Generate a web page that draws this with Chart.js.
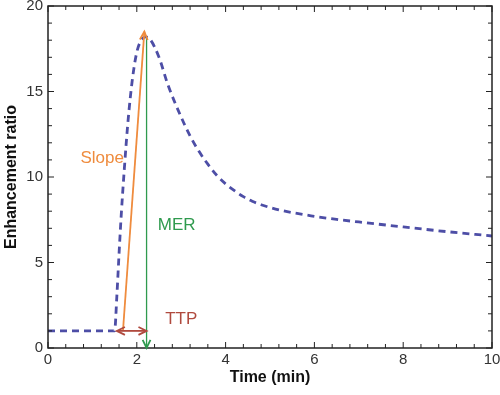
<!DOCTYPE html>
<html>
<head>
<meta charset="utf-8">
<script src="https://cdn.jsdelivr.net/npm/chart.js@4.4.0/dist/chart.umd.min.js"></script>
<style>
  html, body { margin: 0; background: #fff; }
  #wrap { width: 500px; height: 395px; }
</style>
</head>
<body>
<div id="wrap"><canvas id="grafico"></canvas></div>
<script>
// curva de realce
const tempos = [0, 0.5, 1.0, 1.5, 1.55, 1.6, 1.65, 1.72, 1.8, 1.9, 2.0, 2.1, 2.2, 2.3, 2.5, 2.7, 3.0, 3.2, 3.4, 3.6, 3.8, 4.0, 4.2, 4.4, 4.6, 4.8, 5.2, 6.0, 6.5, 7.0, 8.0, 9.0, 10.0];
const razoes = [1, 1, 1, 1, 3.0, 5.5, 7.8, 10.5, 13.2, 15.7, 17.3, 18.0, 18.2, 18.05, 17.0, 15.4, 13.5, 12.4, 11.5, 10.75, 10.1, 9.6, 9.2, 8.85, 8.58, 8.38, 8.08, 7.7, 7.52, 7.37, 7.08, 6.8, 6.55];

// anotações
const slopeX = [1.69, 2.17];
const slopeY = [1.05, 18.5];
const merX = [2.22, 2.22];
const merY = [0, 18.2];
const ttpX = [1.55, 2.22];
const ttpY = [1, 1];

const xTicks = [0, 2, 4, 6, 8, 10];
const yTicks = [0, 5, 10, 15, 20];

const azul = '#4d4ea6';
const laranja = '#ef8c3e';
const verde = '#2f9a4e';
const marrom = '#b04a3e';

function pontos(xs, ys) {
    return xs.map(function (x, i) { return { x: x, y: ys[i] }; });
}

// moldura com ticks para dentro + setas + textos
const moldura = {
    id: 'moldura',
    afterDatasetsDraw: function (chart) {
        const ctx = chart.ctx;
        const a = chart.chartArea;
        const sx = chart.scales.x;
        const sy = chart.scales.y;
        ctx.save();
        ctx.strokeStyle = '#222';
        ctx.lineWidth = 1.5;
        ctx.strokeRect(a.left, a.top, a.right - a.left, a.bottom - a.top);
        ctx.lineWidth = 1;
        for (let v = 0; v <= 10.001; v += 0.4) {
            const px = sx.getPixelForValue(v);
            const len = (Math.abs(v / 2 - Math.round(v / 2)) < 0.01) ? 6 : 4;
            ctx.beginPath();
            ctx.moveTo(px, a.bottom); ctx.lineTo(px, a.bottom - len);
            ctx.moveTo(px, a.top); ctx.lineTo(px, a.top + len);
            ctx.stroke();
        }
        for (let v = 0; v <= 20; v += 1) {
            const py = sy.getPixelForValue(v);
            const len = (v % 5 === 0) ? 6 : 4;
            ctx.beginPath();
            ctx.moveTo(a.left, py); ctx.lineTo(a.left + len, py);
            ctx.moveTo(a.right, py); ctx.lineTo(a.right - len, py);
            ctx.stroke();
        }

        function seta(x0, y0, x1, y1, cor) {
            const p0 = [sx.getPixelForValue(x0), sy.getPixelForValue(y0)];
            const p1 = [sx.getPixelForValue(x1), sy.getPixelForValue(y1)];
            const ang = Math.atan2(p1[1] - p0[1], p1[0] - p0[0]);
            const tam = 9, abre = 0.45;
            ctx.strokeStyle = cor;
            ctx.lineWidth = 1.8;
            ctx.beginPath();
            ctx.moveTo(p1[0] - tam * Math.cos(ang - abre), p1[1] - tam * Math.sin(ang - abre));
            ctx.lineTo(p1[0], p1[1]);
            ctx.lineTo(p1[0] - tam * Math.cos(ang + abre), p1[1] - tam * Math.sin(ang + abre));
            ctx.stroke();
        }
        seta(slopeX[0], slopeY[0], slopeX[1], slopeY[1], laranja);
        seta(merX[1], merY[1], merX[0], merY[0], verde);
        seta(ttpX[0], ttpY[0], ttpX[1], ttpY[1], marrom);
        seta(ttpX[1], ttpY[1], ttpX[0], ttpY[0], marrom);

        ctx.font = '17px "Liberation Sans", Arial, sans-serif';
        ctx.textAlign = 'center';
        ctx.textBaseline = 'middle';
        ctx.fillStyle = laranja;
        ctx.fillText('Slope', sx.getPixelForValue(1.22), sy.getPixelForValue(11.1));
        ctx.fillStyle = verde;
        ctx.fillText('MER', sx.getPixelForValue(2.9), sy.getPixelForValue(7.15));
        ctx.fillStyle = marrom;
        ctx.fillText('TTP', sx.getPixelForValue(3.0), sy.getPixelForValue(1.65));
        ctx.restore();
    }
};

const fonteTick = { family: '"Liberation Sans", Arial, sans-serif', size: 15 };
const fonteTitulo = { family: '"Liberation Sans", Arial, sans-serif', size: 16, weight: 'bold' };

new Chart(document.getElementById('grafico'), {
    type: 'scatter',
    data: {
        datasets: [
            {
                label: 'Curva',
                data: pontos(tempos, razoes),
                showLine: true,
                borderColor: azul,
                borderWidth: 2.8,
                borderDash: [7, 5],
                cubicInterpolationMode: 'monotone',
                pointRadius: 0,
                order: 3
            },
            {
                label: 'Slope',
                data: pontos(slopeX, slopeY),
                showLine: true,
                borderColor: laranja,
                borderWidth: 1.8,
                pointRadius: 0,
                order: 2
            },
            {
                label: 'MER',
                data: pontos(merX, merY),
                showLine: true,
                borderColor: verde,
                borderWidth: 1.3,
                pointRadius: 0,
                order: 1
            },
            {
                label: 'TTP',
                data: pontos(ttpX, ttpY),
                showLine: true,
                borderColor: marrom,
                borderWidth: 1.8,
                pointRadius: 0,
                order: 0
            }
        ]
    },
    options: {
        responsive: true,
        maintainAspectRatio: false,
        animation: false,
        layout: { padding: { top: 6, right: 8, left: 0, bottom: 0 }, autoPadding: false },
        plugins: {
            legend: { display: false },
            tooltip: { enabled: false }
        },
        scales: {
            x: {
                type: 'linear',
                min: 0,
                max: 10,
                afterFit: function (s) { s.height = 47; s.paddingLeft = 0; s.paddingRight = 0; },
                afterBuildTicks: function (s) { s.ticks = xTicks.map(function (v) { return { value: v }; }); },
                grid: { display: false, drawTicks: false },
                border: { display: false },
                ticks: { color: '#333', font: fonteTick, padding: 3, maxRotation: 0 },
                title: { display: true, text: 'Time (min)', color: '#111', font: fonteTitulo, padding: { top: 0, bottom: 8 } }
            },
            y: {
                min: 0,
                max: 20,
                afterFit: function (s) { s.width = 48; s.paddingTop = 0; s.paddingBottom = 0; },
                afterBuildTicks: function (s) { s.ticks = yTicks.map(function (v) { return { value: v }; }); },
                grid: { display: false, drawTicks: false },
                border: { display: false },
                ticks: { color: '#333', font: fonteTick, padding: 5 },
                title: { display: true, text: 'Enhancement ratio', color: '#111', font: fonteTitulo, padding: { top: 2, bottom: 0 } }
            }
        }
    },
    plugins: [moldura]
});
</script>
</body>
</html>
